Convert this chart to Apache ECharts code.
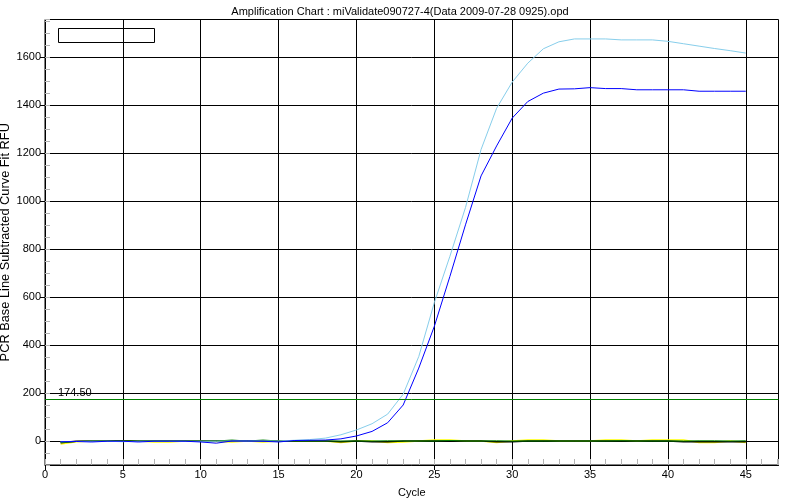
<!DOCTYPE html>
<html>
<head>
<meta charset="utf-8">
<script src="https://cdn.jsdelivr.net/npm/echarts@6/dist/echarts.min.js"></script>
<style>html,body{margin:0;padding:0;background:#fff}#c{width:800px;height:500px}</style>
</head>
<body>
<div id="c"></div>
<script>
const cycles = [1,2,3,4,5,6,7,8,9,10,11,12,13,14,15,16,17,18,19,20,21,22,23,24,25,26,27,28,29,30,31,32,33,34,35,36,37,38,39,40,41,42,43,44,45];
const lightBlue = [-3,-2,-1,-1,-3,-1,-1,-1,-1,-1,-1,0,0,0,0,3,6,12,26,46,72,112,195,352,577,770,973,1215,1387,1496,1575,1635,1664,1676,1676,1676,1672,1672,1672,1666,1656,1646,1636,1627,1617];
const blue = [-3,-2,-4,-1,-1,-4,-1,-1,-1,-4,-9,0,0,-1,-4,2,3,4,9,21,40,76,150,304,478,686,901,1105,1230,1346,1415,1450,1467,1468,1473,1469,1469,1464,1464,1464,1464,1458,1458,1458,1458];
const yellowTrace = [-12,-3,0,0,0,0,-4,-4,0,0,-2,-4,0,-4,0,0,0,0,-6,0,0,-6,-4,0,4,4,0,0,-6,0,4,4,0,0,0,4,4,0,4,4,4,-6,-6,0,-6];
const darkTrace = [-7,-1,0,0,0,0,0,0,0,0,0,0,0,0,0,0,0,0,-3,0,-3,-3,0,0,0,0,0,0,-3,-3,0,0,0,0,0,0,0,0,0,0,-3,-3,-3,-3,-3];
const greenTrace = [-6,-2,0,0,0,0,0,0,0,0,0,4,0,4,0,0,0,0,0,0,0,1,0,0,0,2,0,0,1,0,0,0,0,0,0,0,1,0,0,0,0,1,1,0,1];
const threshold = 174.5;
const xTicks = [0,5,10,15,20,25,30,35,40,45];
const yTicks = [0,200,400,600,800,1000,1200,1400,1600];
const titleText = 'Amplification Chart : miValidate090727-4(Data 2009-07-28 0925).opd';

const FONT = 'Liberation Sans';
const pairs = arr => cycles.map((c, i) => [c, arr[i]]);
const lineSeries = (name, arr, color, w) => ({
  name, type: 'line', data: pairs(arr), showSymbol: false, symbol: 'none',
  lineStyle: { color, width: w || 1 }, itemStyle: { color }, animation: false, silent: true,
  xAxisIndex: 0, yAxisIndex: 0
});

const chart = echarts.init(document.getElementById('c'), null, { renderer: 'canvas' });
chart.setOption({
  animation: false,
  backgroundColor: '#fff',
  title: { text: titleText, left: 'center', top: 1,
    textStyle: { fontFamily: FONT, fontSize: 11, fontWeight: 'normal', color: '#000' } },
  grid: { left: 45, right: 21.5, top: 19.5, bottom: 35, containLabel: false, outerBoundsMode: 'none',
    show: true, borderColor: '#000', borderWidth: 1, backgroundColor: 'transparent' },
  xAxis: [
    { type: 'value', min: 0, max: 47.1, position: 'bottom',
      name: 'Cycle', nameLocation: 'middle', nameGap: 22, nameMoveOverlap: false,
      nameTextStyle: { fontFamily: FONT, fontSize: 11, color: '#000' },
      axisLine: { show: true, onZero: false, lineStyle: { color: '#000', width: 1 } },
      axisTick: { show: true, inside: false, length: 5, customValues: xTicks, lineStyle: { color: '#000' } },
      axisLabel: { customValues: xTicks, margin: 4, fontFamily: FONT, fontSize: 11, color: '#000', formatter: v => String(v) },
      splitLine: { show: true, lineStyle: { color: '#000', width: 1 } } },
    { type: 'value', min: 0, max: 47.1, interval: 1, position: 'bottom',
      axisLine: { show: false, onZero: false }, axisLabel: { show: false }, splitLine: { show: false },
      axisTick: { show: true, inside: true, length: 6, lineStyle: { color: '#b4b4b4' } } }
  ],
  yAxis: [
    { type: 'value', min: -100, max: 1757, position: 'left',
      name: 'PCR Base Line Subtracted Curve Fit RFU', nameLocation: 'middle', nameGap: 33, nameMoveOverlap: false,
      nameTextStyle: { fontFamily: FONT, fontSize: 12.8, color: '#000' },
      axisLine: { show: true, onZero: false, lineStyle: { color: '#000', width: 1 } },
      axisTick: { show: true, inside: false, length: 5, customValues: yTicks, lineStyle: { color: '#000' } },
      axisLabel: { customValues: yTicks, margin: 4, fontFamily: FONT, fontSize: 11, color: '#000', formatter: v => String(v) },
      splitLine: { show: true, lineStyle: { color: '#000', width: 1 } } },
    { type: 'value', min: -100, max: 1757, interval: 50, position: 'left',
      axisLine: { show: false, onZero: false }, axisLabel: { show: false }, splitLine: { show: false },
      axisTick: { show: true, inside: true, length: 5, lineStyle: { color: '#b4b4b4' } } }
  ],
  series: [
    lineSeries('yellow', yellowTrace, '#ffff00', 1.5),
    lineSeries('dark', darkTrace, '#000000', 1.5),
    Object.assign(lineSeries('green', greenTrace, '#008000'), {
      markLine: { silent: true, symbol: 'none', animation: false,
        lineStyle: { color: '#008000', width: 1, type: 'solid' },
        label: { show: true, position: 'insideStartTop', formatter: threshold.toFixed(2),
          distance: [13, 1], fontFamily: FONT, fontSize: 11, color: '#000' },
        data: [{ yAxis: threshold }] } }),
    lineSeries('lightBlue', lightBlue, '#87ceeb'),
    lineSeries('blue', blue, '#0000ff')
  ],
  graphic: [
    { type: 'rect', shape: { x: 58.5, y: 28.5, width: 96, height: 14 },
      style: { fill: 'transparent', stroke: '#000', lineWidth: 1 }, silent: true }
  ]
});
</script>
</body>
</html>
